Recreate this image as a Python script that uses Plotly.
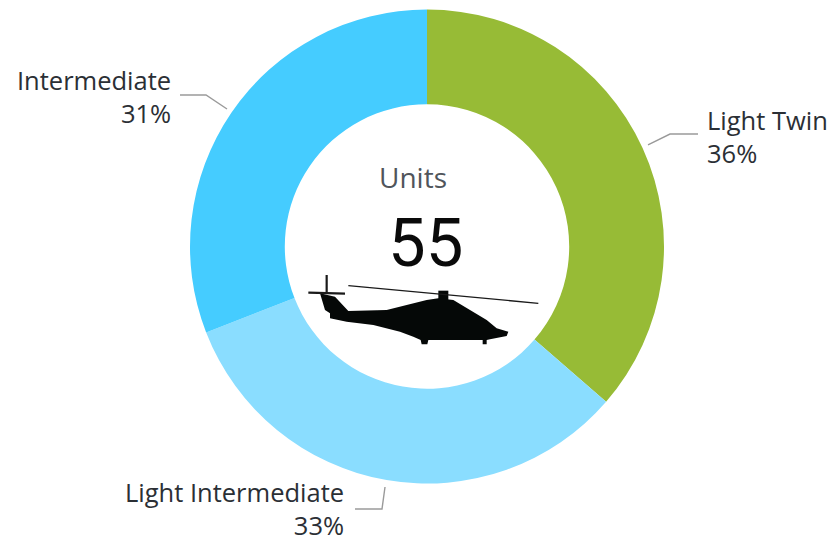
import plotly.graph_objects as go

W, H = 837, 541
categories = ["Light Twin", "Light Intermediate", "Intermediate"]
units = [20, 18, 17]
percent_labels = ["36%", "33%", "31%"]
colors = ["#97BB36", "#8ADDFF", "#45CCFF"]
total_label = "55"
center_title = "Units"

def fx(x): return x / W
def fy(y): return 1 - y / H

fig = go.Figure(go.Pie(
    labels=categories, values=units, sort=False, direction="clockwise", rotation=0,
    hole=0.6, marker=dict(colors=colors, line=dict(width=0)), textinfo="none",
    showlegend=False, hoverinfo="label+percent",
    domain=dict(x=[fx(190), fx(664)], y=[fy(483.5), fy(9.5)]),
))

TXT = "#2b2f35"
FONT = "Open Sans"
def note(x, y, text, anchor, size=25.5, color=TXT, family=FONT):
    fig.add_annotation(x=fx(x), y=fy(y), xref="paper", yref="paper", text=text, showarrow=False,
                       xanchor=anchor, yanchor="middle", align=anchor if anchor != "center" else "center",
                       font=dict(family=family, size=size, color=color))

note(705, 136, f"{categories[0]}<br>{percent_labels[0]}", "left")
note(346, 508, f"{categories[1]}<br>{percent_labels[1]}", "right")
note(173, 96, f"{categories[2]}<br>{percent_labels[2]}", "right")
note(413, 177, center_title, "center", size=28, color="#50555b")
note(425, 243, total_label, "center", size=67, color="#0a0a0a", family="Roboto")

def poly(points, close=True):
    d = "M " + " L ".join(f"{fx(x):.5f},{fy(y):.5f}" for x, y in points)
    return d + (" Z" if close else "")

# leader lines
for pts in ([(698, 134), (670, 134), (648, 145)],
            [(385, 487), (382, 509), (355, 509)],
            [(180, 95), (206, 95), (227, 109)]):
    fig.add_shape(type="path", xref="paper", yref="paper", path=poly(pts, False),
                  line=dict(color="#9a9a9a", width=1.4))

# helicopter silhouette (offsets are crop px / 3)
def z(p): return (290 + p[0] / 3, 150 + p[1] / 3)
body = [(90,430),(135,440),(175,483),(290,480),(350,465),(410,450),(445,445),(490,450),(540,480),(590,510),
        (620,535),(655,545),(650,558),(600,568),(590,570),(590,583),(578,583),(578,570),(415,570),(412,583),
        (395,583),(392,570),(370,560),(330,545),(250,525),(170,515),(120,505),(120,490),(105,480)]
hub = [(445,422),(475,422),(475,450),(445,450)]
for pts in (body, hub):
    fig.add_shape(type="path", xref="paper", yref="paper", path=poly([z(p) for p in pts]),
                  fillcolor="#050807", line=dict(width=0))
for pts, w in (([(175,407),(745,460)], 1.3), ([(55,428),(165,431)], 2.2), ([(110,375),(110,430)], 2.2)):
    fig.add_shape(type="path", xref="paper", yref="paper", path=poly([z(p) for p in pts], False),
                  line=dict(color="#1a1a1a", width=w))

fig.update_layout(width=W, height=H, margin=dict(l=0, r=0, t=0, b=0), paper_bgcolor="white")
fig.write_html("out.html", config=dict(displayModeBar=False),
               post_script="document.body.style.margin='0';document.documentElement.style.overflow='hidden';")
